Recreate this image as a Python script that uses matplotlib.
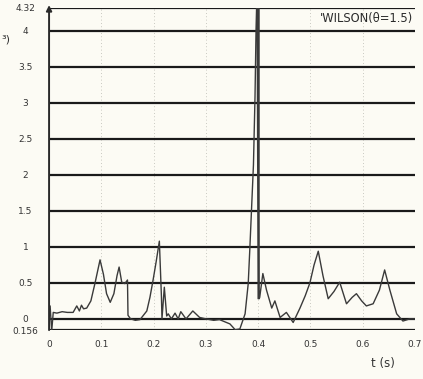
import numpy as np
import matplotlib
matplotlib.use("Agg")
import matplotlib.pyplot as plt

# response trace (time in s, value)
t = [0.000, 0.002, 0.005, 0.008, 0.015, 0.025, 0.035, 0.046, 0.053, 0.058,
     0.062, 0.066, 0.072, 0.080, 0.088, 0.0975, 0.104, 0.110, 0.117, 0.124,
     0.130, 0.134, 0.139, 0.145, 0.150, 0.151, 0.156, 0.165, 0.174, 0.187,
     0.193, 0.199, 0.205, 0.211, 0.215, 0.216, 0.2205, 0.225, 0.228, 0.234,
     0.241, 0.247, 0.252, 0.262, 0.275, 0.288, 0.300, 0.315, 0.326, 0.346,
     0.356, 0.365, 0.375, 0.381, 0.384, 0.391, 0.394, 0.396, 0.398, 0.400,
     0.401, 0.402, 0.403, 0.409, 0.416, 0.426, 0.432, 0.442, 0.454, 0.467,
     0.480, 0.490, 0.499, 0.507, 0.515, 0.524, 0.534, 0.545, 0.556, 0.569,
     0.580, 0.588, 0.598, 0.607, 0.620, 0.632, 0.642, 0.652, 0.665, 0.677,
     0.690, 0.700]
accel = [0.00, 0.18, -0.17, 0.09, 0.08, 0.10, 0.09, 0.09, 0.18, 0.11,
         0.19, 0.14, 0.15, 0.25, 0.50, 0.82, 0.62, 0.35, 0.23, 0.35,
         0.60, 0.72, 0.51, 0.49, 0.54, 0.05, 0.00, -0.02, -0.01, 0.11,
         0.30, 0.54, 0.80, 1.08, 0.30, 0.00, 0.44, 0.04, 0.07, 0.00,
         0.08, 0.00, 0.10, 0.00, 0.11, 0.02, 0.00, -0.02, -0.01, -0.07,
         -0.15, -0.14, 0.07, 0.49, 0.96, 2.14, 3.09, 4.03, 4.60, 0.28,
         4.60, 0.28, 0.30, 0.63, 0.40, 0.15, 0.25, 0.02, 0.09, -0.05,
         0.15, 0.32, 0.50, 0.75, 0.94, 0.60, 0.28, 0.38, 0.51, 0.21,
         0.30, 0.35, 0.25, 0.18, 0.21, 0.40, 0.68, 0.40, 0.07, -0.03,
         0.00, 0.00]

y_levels = [-0.156, 0, 0.5, 1, 1.5, 2, 2.5, 3, 3.5, 4, 4.32]
y_labels = ["0.156", "0", "0.5", "1", "1.5", "2", "2.5", "3", "3.5", "4", "4.32"]
x_ticks = [0, 0.1, 0.2, 0.3, 0.4, 0.5, 0.6, 0.7]
x_labels = ["0", "0.1", "0.2", "0.3", "0.4", "0.5", "0.6", "0.7"]

paper = "#fcfbf4"
fig = plt.figure(figsize=(4.23, 3.79), dpi=100, facecolor=paper)
ax = fig.add_axes([0.116, 0.129, 0.865, 0.850], facecolor=paper)

ax.set_xlim(0, 0.7)
ax.set_ylim(-0.156, 4.32)

# faint dotted verticals
for xv in x_ticks[1:-1]:
    ax.axvline(xv, color="#b8b8b0", lw=0.6, ls=(0, (1, 3)), zorder=1)

# heavy horizontal rules
for yv in y_levels:
    ax.axhline(yv, color="#1a1a1a", lw=1.6, zorder=2)

ax.plot(t, accel, color="#3a3a3a", lw=1.0, zorder=3)

for s in ax.spines.values():
    s.set_visible(False)

# vertical axis with arrowhead
ax.annotate("", xy=(0, 4.36), xytext=(0, -0.156), xycoords="data",
            arrowprops=dict(arrowstyle="-|>", color="#2a2a2a", lw=1.4,
                            mutation_scale=8, shrinkA=0, shrinkB=0),
            annotation_clip=False, zorder=4)

ax.set_yticks(y_levels)
ax.set_yticklabels(y_labels, ha="center")
ax.set_xticks(x_ticks)
ax.set_xticklabels(x_labels)
ax.tick_params(length=0, labelsize=6.5, colors="#333333")
ax.tick_params(axis="x", pad=7)
ax.tick_params(axis="y", pad=17)

ax.text(0.697, 4.17, "'WILSON(\u03b8=1.5)", ha="right", va="center",
        fontsize=8.3, color="#2a2a2a")
fig.text(0.934, 0.025, "t (s)", ha="right", va="bottom", fontsize=8.5,
         color="#333333")
fig.text(0.004, 0.895, "\u00b3)", ha="left", va="center", fontsize=8,
         color="#333333")

fig.savefig("out.png", dpi=100, facecolor=paper)
